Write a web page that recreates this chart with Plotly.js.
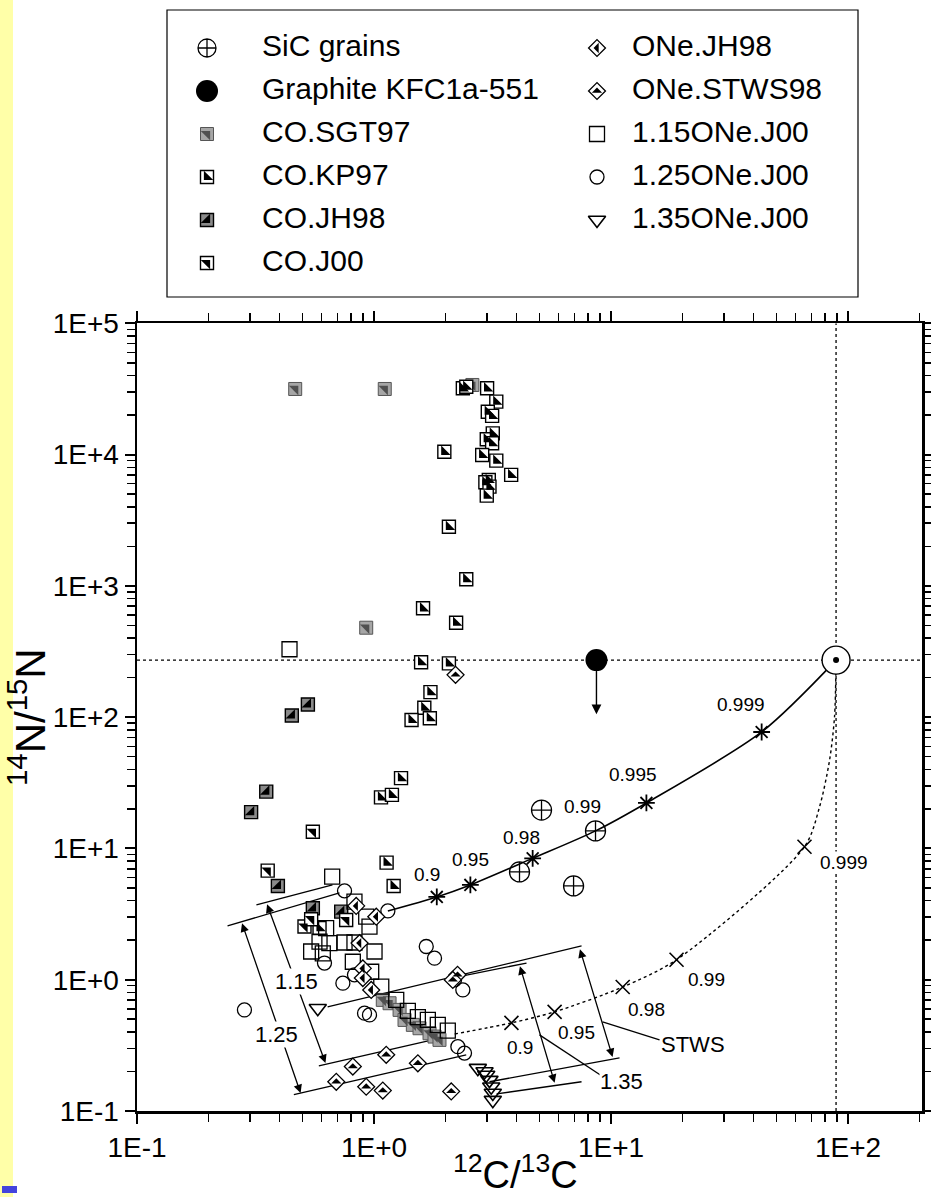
<!DOCTYPE html>
<html><head><meta charset="utf-8">
<script src="https://cdn.plot.ly/plotly-3.0.1.min.js"></script>
<style>html,body{margin:0;padding:0;background:#fff}</style>
</head><body><div id="chart" style="width:931px;height:1197px"></div>
<script>
// ---------------- data ----------------
const sicX = [4.11, 8.6, 5.09, 6.95];
const sicY = [6.62, 13.6, 19.6, 5.18];
const graphiteX = [8.68];
const graphiteY = [272];
const graphiteLimitY = 105;
const solarX = [89];
const solarY = [272];

const coSGT97X = [0.465, 1.11, 2.60, 0.927, 1.089, 1.163, 1.282, 1.345, 1.458, 1.556, 1.715, 1.800, 1.889];
const coSGT97Y = [31600, 31600, 33900, 480, 0.702, 0.662, 0.589, 0.494, 0.453, 0.427, 0.391, 0.369, 0.348];
const coKP97X = [2.37, 2.45, 3.00, 3.28, 3.02, 3.15, 3.17, 2.99, 3.15, 1.98, 2.86, 3.28, 3.79, 3.05, 2.95, 3.07, 2.99, 2.07,
                 2.45, 1.61, 2.22, 1.58, 2.07, 1.73, 1.63, 1.72, 1.44, 1.30, 1.07, 1.19, 1.13, 1.21, 0.589];
const coKP97Y = [32000, 32900, 32000, 25300, 21200, 19700, 14500, 13100, 12200, 10500, 9930, 8990, 7000, 6410, 6160, 5700, 4870, 2820,
                 1123, 675, 524, 262, 257, 155, 118, 98.1, 95.2, 34.3, 24.5, 25.6, 7.80, 5.18, 2.47];
const coJH98X = [0.526, 0.450, 0.351, 0.303, 0.393, 0.552, 0.727];
const coJH98Y = [125, 103, 27.1, 18.9, 5.18, 3.50, 3.30];
const coJ00X = [0.552, 0.356, 0.763, 0.509, 0.543];
const coJ00Y = [13.4, 6.77, 2.85, 2.54, 2.89];
const oneJH98X = [0.841, 1.022, 0.869, 0.897, 0.897, 0.973];
const oneJH98Y = [3.65, 3.02, 1.90, 1.22, 1.03, 0.836];
const oneSTWS98X = [2.208, 1.126, 1.531, 0.814, 0.693, 0.927, 1.089, 2.117, 2.251, 2.150];
const oneSTWS98Y = [210, 0.268, 0.231, 0.218, 0.167, 0.153, 0.143, 0.141, 1.09, 0.997];
const one115X = [0.440, 0.666, 0.827, 0.927, 0.957, 0.628, 0.589, 0.648, 0.751, 0.827, 0.543, 0.608, 1.005, 0.814, 0.973,
                 1.073, 1.241, 1.389, 1.531, 1.687, 1.858, 2.048];
const one115Y = [329, 6.10, 3.93, 3.02, 2.54, 2.47, 1.95, 1.90, 1.92, 1.92, 1.64, 1.59, 1.64, 1.37, 1.15,
                 0.886, 0.702, 0.579, 0.518, 0.494, 0.453, 0.410];
const one125X = [0.751, 1.144, 0.618, 0.739, 0.827, 1.661, 1.800, 2.186, 2.370, 0.912, 0.957, 0.284, 2.258, 2.409];
const one125Y = [4.75, 3.34, 1.34, 0.941, 1.09, 1.79, 1.46, 0.997, 0.836, 0.556, 0.539, 0.589, 0.309, 0.276];
const one135X = [0.579, 2.742, 2.926, 2.974, 3.07, 3.122, 3.171, 3.171];
const one135Y = [0.607, 0.212, 0.200, 0.188, 0.172, 0.153, 0.137, 0.121];

// mixing tracks (solid: SiC-type mixing, dotted: STWS)
const solidTrackX = [1.144, 1.84, 2.55, 4.67, 8.6, 14.1, 43.2, 89];
const solidTrackY = [3.34, 4.27, 5.27, 8.4, 13.6, 22.2, 77.1, 272];
const solidMarkX = [1.84, 2.55, 4.67, 14.1, 43.2];
const solidMarkY = [4.27, 5.27, 8.4, 22.2, 77.1];
const solidMarkLabels = ['0.9', '0.95', '0.98', '0.99', '0.995', '0.999'];
const solidLabelX = [1.666, 2.554, 4.19, 7.58, 12.32, 35.2];
const solidLabelY = [6.28, 8.17, 12.2, 20.7, 36.3, 124];

const dottedTrackX = [2.19, 3.80, 5.78, 11.2, 18.9, 65.5, 75.8, 83.6, 87.7, 89];
const dottedTrackY = [0.386, 0.469, 0.569, 0.88, 1.42, 10.3, 20.7, 47.2, 101, 272];
const dottedMarkX = [3.80, 5.78, 11.2, 18.9, 65.5];
const dottedMarkY = [0.469, 0.569, 0.88, 1.42, 10.3];
const dottedMarkLabels = ['0.9', '0.95', '0.98', '0.99', '0.999'];
const dottedLabelX = [4.11, 7.15, 14.1, 25.3, 96.6];
const dottedLabelY = [0.302, 0.393, 0.589, 0.997, 7.75];

// bracket / leader lines [x0, y0, x1, y1]
const bracketLines = [
  [0.319, 3.71, 0.668, 5.27], [0.241, 2.57, 0.715, 4.58],
  [0.585, 0.221, 1.766, 0.348], [0.459, 0.133, 2.449, 0.268],
  [0.637, 0.621, 7.51, 1.81], [2.124, 1.03, 4.40, 1.34],
  [3.07, 0.167, 10.86, 0.254], [3.29, 0.135, 7.51, 0.167],
  [9.21, 0.477, 16.02, 0.348], [4.99, 0.380, 9.39, 0.179]
];
const bracketArrows = [
  [0.352, 3.85, 0.624, 0.232], [0.276, 2.76, 0.490, 0.137],
  [7.36, 1.75, 10.15, 0.258], [4.11, 1.30, 5.78, 0.164]
];
const bracketLabels = ['1.15', '1.25', 'STWS', '1.35'];
const bracketLabelX = [0.471, 0.388, 22.1, 11.08];
const bracketLabelY = [0.962, 0.380, 0.319, 0.167];

const legendCol1 = ['SiC grains', 'Graphite KFC1a-551', 'CO.SGT97', 'CO.KP97', 'CO.JH98', 'CO.J00'];
const legendCol2 = ['ONe.JH98', 'ONe.STWS98', '1.15ONe.J00', '1.25ONe.J00', '1.35ONe.J00'];

const xTickVals = [0.1, 1, 10, 100];
const xTickText = ['1E-1', '1E+0', '1E+1', '1E+2'];
const yTickVals = [0.1, 1, 10, 100, 1000, 10000, 100000];
const yTickText = ['1E-1', '1E+0', '1E+1', '1E+2', '1E+3', '1E+4', '1E+5'];
const xTitle = '<sup>12</sup>C/<sup>13</sup>C';
const yTitle = '<sup>14</sup>N/<sup>15</sup>N';

// ---------------- styles ----------------
const FONT = 'Liberation Sans, Arial, Helvetica, sans-serif';
const SQ = 13, DI = 13, TR = 1.25;
const styles = {
  sic: [{symbol: 'circle-cross-open', size: 20, color: '#000', line: {width: 1.3}}],
  graphite: [{symbol: 'circle', size: 22, color: '#000'}],
  sgt97: [{symbol: 'square', size: SQ, color: '#a6a6a6', line: {color: '#555', width: 1}},
          {symbol: 'triangle-ne', size: SQ / TR, color: '#505050'}],
  kp97: [{symbol: 'square', size: SQ, color: '#fff', line: {color: '#000', width: 1.4}},
         {symbol: 'triangle-sw', size: SQ / TR, color: '#000'}],
  jh98: [{symbol: 'square', size: SQ, color: '#8a8a8a', line: {color: '#000', width: 1.4}},
         {symbol: 'triangle-se', size: SQ / TR, color: '#000'}],
  j00: [{symbol: 'square', size: SQ, color: '#fff', line: {color: '#000', width: 1.4}},
        {symbol: 'triangle-ne', size: SQ / TR, color: '#000'}],
  oneJH98: [{symbol: 'diamond', size: DI, color: '#fff', line: {color: '#000', width: 1.3}},
            {symbol: 'triangle-ne', angle: -135, size: DI * 0.62, color: '#000'}],
  oneSTWS98: [{symbol: 'diamond', size: DI, color: '#fff', line: {color: '#000', width: 1.3}},
              {symbol: 'triangle-ne', angle: -45, size: DI * 0.62, color: '#000'}],
  s115: [{symbol: 'square-open', size: 15, color: '#000', line: {width: 1.3}}],
  s125: [{symbol: 'circle-open', size: 14, color: '#000', line: {width: 1.3}}],
  s135: [{symbol: 'triangle-down-open', size: 15, color: '#000', line: {width: 1.6}}]
};

const traces = [];
function addSeries(xs, ys, style, xa, ya) {
  style.forEach(s => traces.push({type: 'scatter', mode: 'markers', x: xs, y: ys, xaxis: xa, yaxis: ya,
    hoverinfo: 'skip', showlegend: false, marker: Object.assign({}, s)}));
}
function addLine(xs, ys, dash, width) {
  traces.push({type: 'scatter', mode: 'lines', x: xs, y: ys, xaxis: 'x', yaxis: 'y', hoverinfo: 'skip',
    showlegend: false, line: {color: '#000', width: width, dash: dash}});
}

// reference (solar) lines
addLine([0.1, 210], [solarY[0], solarY[0]], 'dot', 1.3);
addLine([solarX[0], solarX[0]], [0.1, 1e5], 'dot', 1.3);
// tracks
traces.push({type: 'scatter', mode: 'lines', x: solidTrackX, y: solidTrackY, line: {color: '#000', width: 1.6, shape: 'spline', smoothing: 0.8}, hoverinfo: 'skip', showlegend: false});
traces.push({type: 'scatter', mode: 'lines', x: dottedTrackX, y: dottedTrackY, line: {color: '#000', width: 1.4, dash: 'dot', shape: 'spline', smoothing: 0.8}, hoverinfo: 'skip', showlegend: false});
addSeries(solidMarkX, solidMarkY, [{symbol: 'asterisk-open', size: 14, color: '#000', line: {width: 1.8}}], 'x', 'y');
addSeries(dottedMarkX, dottedMarkY, [{symbol: 'x-thin-open', size: 14, color: '#000', line: {width: 1.6}}], 'x', 'y');
// bracket lines
bracketLines.forEach(s => addLine([s[0], s[2]], [s[1], s[3]], 'solid', 1.3));

// data series
addSeries(coSGT97X, coSGT97Y, styles.sgt97, 'x', 'y');
addSeries(coKP97X, coKP97Y, styles.kp97, 'x', 'y');
addSeries(coJH98X, coJH98Y, styles.jh98, 'x', 'y');
addSeries(coJ00X, coJ00Y, styles.j00, 'x', 'y');
addSeries(one115X, one115Y, styles.s115, 'x', 'y');
addSeries(one125X, one125Y, styles.s125, 'x', 'y');
addSeries(one135X, one135Y, styles.s135, 'x', 'y');
addSeries(oneJH98X, oneJH98Y, styles.oneJH98, 'x', 'y');
addSeries(oneSTWS98X, oneSTWS98Y, styles.oneSTWS98, 'x', 'y');
addSeries(sicX, sicY, styles.sic, 'x', 'y');
addSeries(graphiteX, graphiteY, styles.graphite, 'x', 'y');
addSeries(solarX, solarY, [{symbol: 'circle', size: 28, color: '#fff', line: {color: '#000', width: 1.4}}], 'x', 'y');
addSeries(solarX, solarY, [{symbol: 'circle', size: 6, color: '#000'}], 'x', 'y');

// legend (own linear axes in pixel-like units)
const legendStyles1 = [styles.sic, styles.graphite, styles.sgt97, styles.kp97, styles.jh98, styles.j00];
const legendStyles2 = [styles.oneJH98, styles.oneSTWS98, styles.s115, styles.s125, styles.s135];
const LROW0 = 48, LROWD = 43, LC1 = 207, LC2 = 597, LT1 = 262, LT2 = 632;
legendCol1.forEach((t, i) => {
  const st = legendStyles1[i].map(s => Object.assign({}, s, i === 0 ? {size: 18} : {}));
  addSeries([LC1], [LROW0 + i * LROWD], st, 'x2', 'y2');
});
legendCol2.forEach((t, i) => addSeries([LC2], [LROW0 + i * LROWD], legendStyles2[i], 'x2', 'y2'));
traces.push({type: 'scatter', mode: 'text', xaxis: 'x2', yaxis: 'y2', hoverinfo: 'skip', showlegend: false,
  x: legendCol1.map(() => LT1).concat(legendCol2.map(() => LT2)),
  y: legendCol1.map((t, i) => LROW0 + i * LROWD).concat(legendCol2.map((t, i) => LROW0 + i * LROWD)),
  text: legendCol1.concat(legendCol2), textposition: 'middle right',
  textfont: {family: FONT, size: 30, color: '#000'}});

// annotations
const L = Math.log10;
const annotations = [];
function label(text, x, y, size, bg) {
  annotations.push({xref: 'x', yref: 'y', x: L(x), y: L(y), text: text, showarrow: false,
    font: {family: FONT, size: size, color: '#000'}, bgcolor: bg ? '#fff' : 'rgba(0,0,0,0)', borderpad: 0});
}
solidMarkLabels.forEach((t, i) => label(t, solidLabelX[i], solidLabelY[i], 19, false));
dottedMarkLabels.forEach((t, i) => label(t, dottedLabelX[i], dottedLabelY[i], 19, true));
bracketArrows.forEach(a => annotations.push({xref: 'x', yref: 'y', axref: 'x', ayref: 'y',
  x: L(a[2]), y: L(a[3]), ax: L(a[0]), ay: L(a[1]), text: '', showarrow: true,
  arrowhead: 2, startarrowhead: 2, arrowside: 'end+start', arrowsize: 1.3, startarrowsize: 1.3, arrowwidth: 1.3, arrowcolor: '#000'}));
bracketLabels.forEach((t, i) => label(t, bracketLabelX[i], bracketLabelY[i], 22, true));
// graphite upper-limit arrow
annotations.push({xref: 'x', yref: 'y', x: L(graphiteX[0]), y: L(graphiteLimitY), ax: 0, ay: -55, text: '',
  showarrow: true, arrowhead: 2, arrowsize: 1.4, arrowwidth: 1.4, arrowcolor: '#000'});
// x axis title (placed as annotation so it sits just under the tick labels)
annotations.push({xref: 'paper', yref: 'paper', x: (515 - 137) / 785, y: -(1198 - 1111) / 1111,
  xanchor: 'center', yanchor: 'bottom', text: xTitle, showarrow: false,
  font: {family: FONT, size: 38, color: '#000'}});

// minor ticks
function minors(lo, hi) { const v = []; for (let e = lo; e < hi; e++) for (let d = 2; d <= 9; d++) v.push(d * Math.pow(10, e)); return v; }

const axisCommon = {
  type: 'log', showline: true, linewidth: 2.5, linecolor: '#000', mirror: 'allticks',
  ticks: 'outside', ticklen: 10, tickwidth: 2, tickcolor: '#000', showgrid: false, zeroline: false,
  tickfont: {family: FONT, size: 28, color: '#000'}, tickmode: 'array'
};

const layout = {
  width: 931, height: 1197, paper_bgcolor: '#fff', plot_bgcolor: 'rgba(0,0,0,0)',
  margin: {l: 137, r: 9, t: 0, b: 86},
  showlegend: false,
  xaxis: Object.assign({}, axisCommon, {
    range: [-1, 2.312], domain: [0, 1], anchor: 'y',
    tickvals: xTickVals, ticktext: xTickText,
    minor: {ticks: 'outside', ticklen: 8, tickwidth: 1.5, tickcolor: '#000', tickmode: 'array', tickvals: minors(-1, 3), showgrid: false}
  }),
  yaxis: Object.assign({}, axisCommon, {
    range: [-1, 5], domain: [0, 787.7 / 1111], anchor: 'x',
    tickvals: yTickVals, ticktext: yTickText,
    minor: {ticks: 'outside', ticklen: 8, tickwidth: 1.5, tickcolor: '#000', tickmode: 'array', tickvals: minors(-1, 5), showgrid: false},
    title: {text: yTitle, font: {family: FONT, size: 42, color: '#000'}, standoff: 2}
  }),
  xaxis2: {domain: [0, 1], range: [137, 922], anchor: 'y2', visible: false, fixedrange: true},
  yaxis2: {domain: [1 - 300 / 1111, 1], range: [300, 0], anchor: 'x2', visible: false, fixedrange: true},
  shapes: [
    {type: 'rect', xref: 'paper', yref: 'paper', x0: -137 / 785, x1: (13 - 137) / 785, y0: -86 / 1111, y1: 1,
     fillcolor: '#ffffa8', line: {width: 0}, layer: 'below'},
    {type: 'rect', xref: 'paper', yref: 'paper', x0: (2 - 137) / 785, x1: (17 - 137) / 785,
     y0: -(1193 - 1111) / 1111, y1: -(1186 - 1111) / 1111, fillcolor: '#4444dd', line: {width: 0}},
    {type: 'rect', xref: 'x2', yref: 'y2', x0: 167, x1: 858, y0: 10, y1: 297, line: {color: '#000', width: 1.2}, fillcolor: 'rgba(0,0,0,0)'}
  ],
  annotations: annotations
};

Plotly.newPlot('chart', traces, layout, {staticPlot: true, displayModeBar: false});
</script></body></html>
